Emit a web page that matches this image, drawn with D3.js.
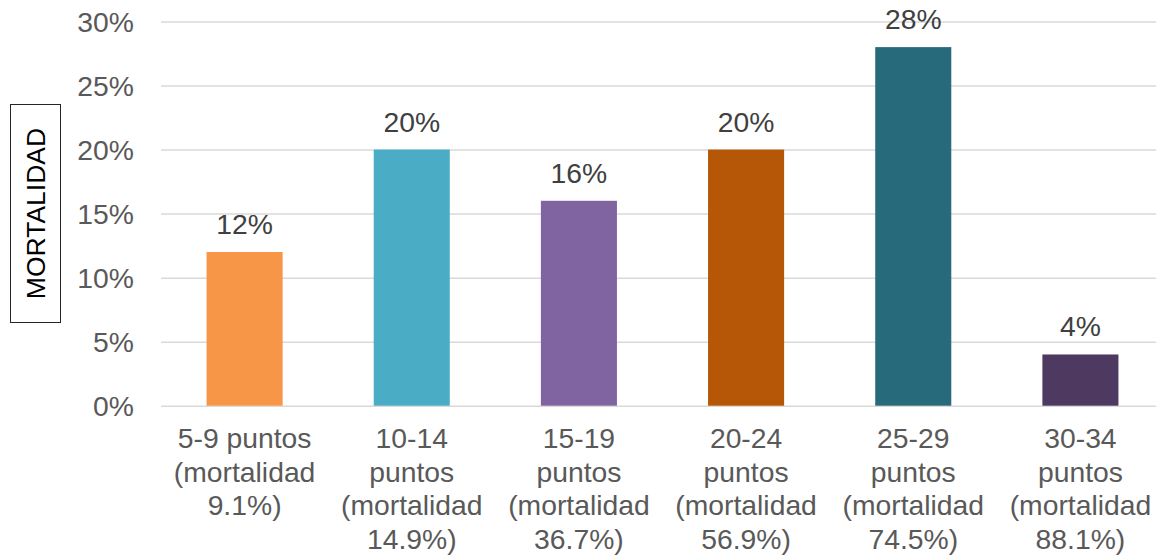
<!DOCTYPE html>
<html>
<head>
<meta charset="utf-8">
<script src="https://cdn.jsdelivr.net/npm/d3@7/dist/d3.min.js"></script>
<style>
  html, body { margin: 0; padding: 0; background: #fff; }
  svg { display: block; font-family: "Liberation Sans", Arial, sans-serif; }
</style>
</head>
<body>
<svg id="chart" width="1156" height="560"></svg>
<script>
const categories = ["5-9 puntos", "10-14 puntos", "15-19 puntos", "20-24 puntos", "25-29 puntos", "30-34 puntos"];
const categoryLines = [
  ["5-9 puntos", "(mortalidad", "9.1%)"],
  ["10-14", "puntos", "(mortalidad", "14.9%)"],
  ["15-19", "puntos", "(mortalidad", "36.7%)"],
  ["20-24", "puntos", "(mortalidad", "56.9%)"],
  ["25-29", "puntos", "(mortalidad", "74.5%)"],
  ["30-34", "puntos", "(mortalidad", "88.1%)"]
];
const values = [0.12, 0.20, 0.16, 0.20, 0.28, 0.04];
const barColors = ["#F79646", "#4BACC6", "#8064A2", "#B65708", "#276A7B", "#4E3A60"];
const yTicks = [0, 0.05, 0.10, 0.15, 0.20, 0.25, 0.30];
const yAxisTitle = "MORTALIDAD";

(function () {
const svg = d3.select("#chart");
const pLeft = 161, pRight = 1164, pTop = 21.5, pBottom = 405.7;
const fs = 28.3;

const x = d3.scaleBand().domain(categories).range([pLeft, pRight])
  .paddingInner(0.545).paddingOuter(0.2725);
const y = d3.scaleLinear().domain([0, 0.30]).range([pBottom, pTop]);
const fmt = d3.format(".0%");

// gridlines
const grid = d3.axisLeft(y).tickValues(yTicks).tickSize(-(pRight - pLeft)).tickFormat("");
svg.append("g").attr("transform", `translate(${pLeft},0)`).call(grid)
  .call(g => g.select(".domain").remove())
  .call(g => g.selectAll("line").attr("stroke", "#d9d9d9").attr("stroke-width", 1.5));

// y tick labels
const yAxis = d3.axisLeft(y).tickValues(yTicks).tickSize(0).tickPadding(0).tickFormat(fmt);
svg.append("g").attr("transform", `translate(134,0)`).call(yAxis)
  .call(g => g.select(".domain").remove())
  .call(g => g.selectAll("text").attr("fill", "#595959").attr("font-size", fs)
    .attr("font-family", "Liberation Sans, Arial, sans-serif").attr("dy", "0.35em"));

// bars
svg.append("g").selectAll("rect").data(values).join("rect")
  .attr("x", (d, i) => x(categories[i]))
  .attr("width", x.bandwidth())
  .attr("y", d => y(d))
  .attr("height", d => y(0) - y(d))
  .attr("fill", (d, i) => barColors[i]);

// data labels
svg.append("g").selectAll("text").data(values).join("text")
  .attr("x", (d, i) => x(categories[i]) + x.bandwidth() / 2)
  .attr("y", d => y(d) - 18)
  .attr("text-anchor", "middle")
  .attr("fill", "#404040")
  .attr("font-size", fs)
  .text(d => fmt(d));

// category labels
const xAxis = d3.axisBottom(x).tickSize(0).tickFormat("");
const xg = svg.append("g").attr("transform", `translate(0,${pBottom})`).call(xAxis);
xg.select(".domain").remove();
xg.selectAll(".tick").each(function(d, i) {
  const t = d3.select(this).select("text")
    .attr("fill", "#595959").attr("font-size", fs).attr("text-anchor", "middle")
    .attr("y", 0).attr("dy", null)
    .attr("font-family", "Liberation Sans, Arial, sans-serif");
  categoryLines[i].forEach((ln, j) => {
    t.append("tspan").attr("x", 0).attr("y", 42.8 + j * 33.5).text(ln);
  });
});

// y axis title box
const boxX = 10, boxY = 104, boxW = 50, boxH = 218;
svg.append("rect").attr("x", boxX + 0.5).attr("y", boxY + 0.5)
  .attr("width", boxW).attr("height", boxH)
  .attr("fill", "#fff").attr("stroke", "#262626").attr("stroke-width", 1);
svg.append("text")
  .attr("transform", `translate(${boxX + boxW / 2 + 0.5},${boxY + boxH / 2 + 0.5}) rotate(-90)`)
  .attr("text-anchor", "middle").attr("dy", "0.35em")
  .attr("font-size", 26.5).attr("fill", "#000")
  .text(yAxisTitle);
})();
</script>
</body>
</html>
